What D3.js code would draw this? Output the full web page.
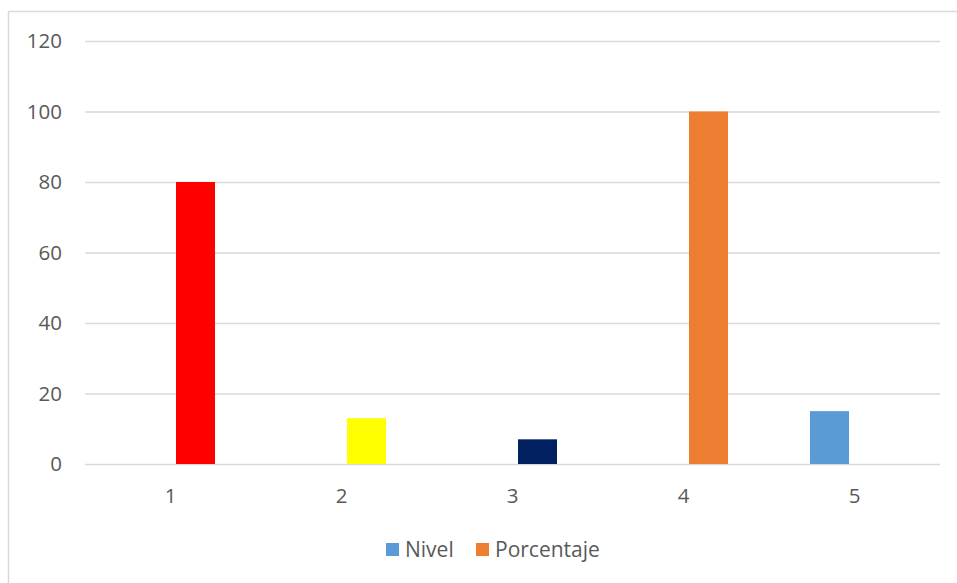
<!DOCTYPE html>
<html>
<head>
<meta charset="utf-8">
<script src="https://cdn.jsdelivr.net/npm/d3@7"></script>
<style>
  body { margin: 0; background: #fff; }
  text { font-family: "Open Sans", sans-serif; fill: #595959; }
</style>
</head>
<body>
<div id="chart"></div>
<script>
const categories = ["1", "2", "3", "4", "5"];
const seriesNames = ["Nivel", "Porcentaje"];
const nivel = [0, 0, 0, 0, 15];
const porcentaje = [80, 13, 7, 100, 0];
const yTicks = [0, 20, 40, 60, 80, 100, 120];

// per-point fill overrides on the Porcentaje series, default series colours
const seriesColors = { Nivel: "#5b9bd5", Porcentaje: "#ed7d31" };
const porcentajeColors = ["#ff0000", "#ffff00", "#002060", "#ed7d31", "#ed7d31"];

const width = 957;
const height = 583;
const margin = { top: 41, right: 17, bottom: 119, left: 85 };
const chartWidth = width - margin.left - margin.right;
const chartHeight = height - margin.top - margin.bottom;

const svg = d3
  .select("#chart")
  .append("svg")
  .attr("width", width)
  .attr("height", height);

// chart area border (only left/top visible in the crop)
svg
  .append("rect")
  .attr("x", 8.5)
  .attr("y", 11.5)
  .attr("width", width + 20)
  .attr("height", height + 20)
  .attr("fill", "none")
  .attr("stroke", "#d9d9d9")
  .attr("stroke-width", 1.5);

const g = svg
  .append("g")
  .attr("transform", `translate(${margin.left},${margin.top})`);

const x0 = d3.scaleBand().domain(categories).range([0, chartWidth]);
const x1 = d3
  .scaleBand()
  .domain(seriesNames)
  .range([0, x0.bandwidth()])
  .paddingInner(0.22)
  .paddingOuter(0.82);
const y = d3.scaleLinear().domain([0, 120]).range([chartHeight, 0]);

// gridlines + y labels
const yAxis = g
  .append("g")
  .attr("class", "y-axis")
  .call(d3.axisLeft(y).tickValues(yTicks).tickSize(-chartWidth).tickPadding(23));
yAxis.select(".domain").remove();
yAxis.selectAll(".tick line").attr("stroke", "#d9d9d9").attr("stroke-width", 1.5);
yAxis
  .selectAll(".tick text")
  .style("font-size", "20.5px")
  .attr("fill", "#595959")
  .attr("font-family", "Open Sans, sans-serif");

const data = categories.map((c, i) => ({
  cat: c,
  values: [
    { key: "Nivel", value: nivel[i], color: seriesColors.Nivel },
    { key: "Porcentaje", value: porcentaje[i], color: porcentajeColors[i] },
  ],
}));

const groups = g
  .selectAll(".cat")
  .data(data)
  .join("g")
  .attr("class", "cat")
  .attr("transform", (d) => `translate(${x0(d.cat)},0)`);

groups
  .selectAll("rect")
  .data((d) => d.values.filter((v) => v.value > 0))
  .join("rect")
  .attr("x", (d) => x1(d.key))
  .attr("y", (d) => y(d.value))
  .attr("width", x1.bandwidth())
  .attr("height", (d) => y(0) - y(d.value))
  .attr("fill", (d) => d.color);

// x axis labels
const xAxis = g
  .append("g")
  .attr("class", "x-axis")
  .attr("transform", `translate(0,${chartHeight})`)
  .call(d3.axisBottom(x0).tickSize(0).tickPadding(24));
xAxis.select(".domain").remove();
xAxis
  .selectAll(".tick text")
  .style("font-size", "20.5px")
  .attr("fill", "#595959")
  .attr("font-family", "Open Sans, sans-serif");

// legend
const legend = svg.append("g").attr("transform", "translate(386,543)");
const legendX = [0, 90];
seriesNames.forEach((name, i) => {
  const item = legend.append("g").attr("transform", `translate(${legendX[i]},0)`);
  item
    .append("rect")
    .attr("width", 13)
    .attr("height", 13)
    .attr("fill", seriesColors[name]);
  item
    .append("text")
    .attr("x", 19)
    .attr("y", 14)
    .style("font-size", "21px")
    .text(name);
});
</script>
</body>
</html>
